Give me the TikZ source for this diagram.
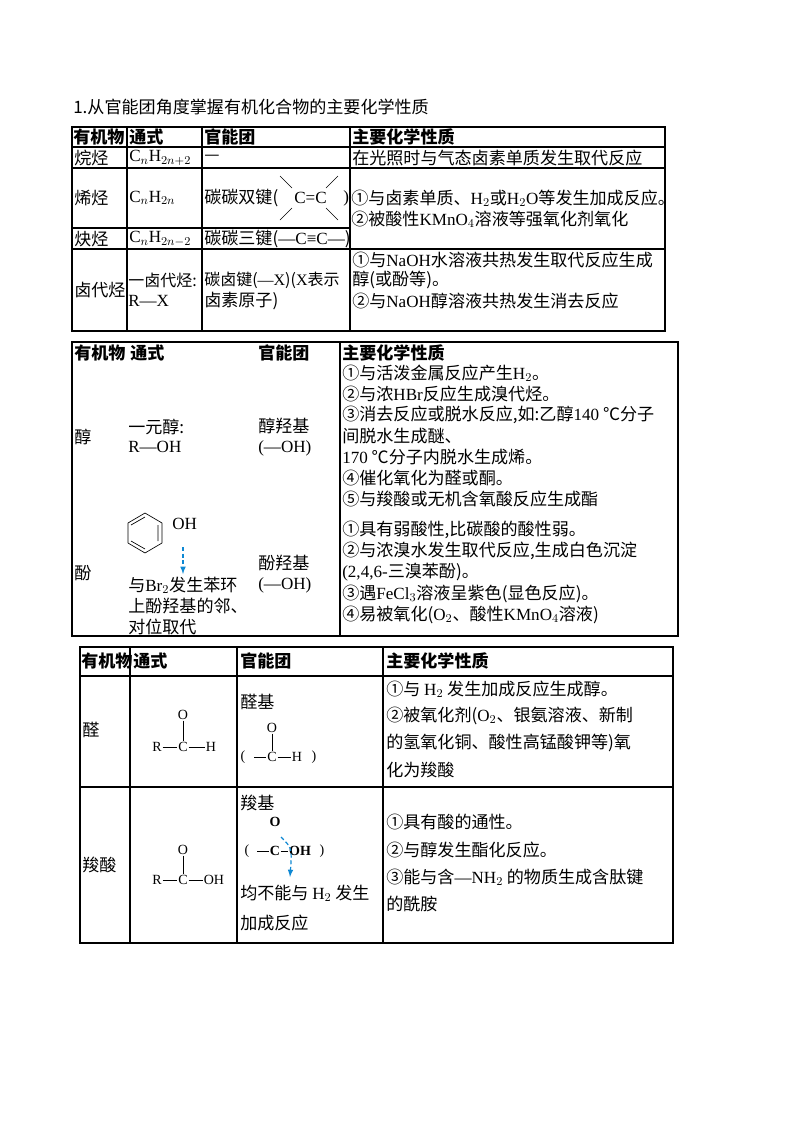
\documentclass[tikz,border=0pt]{standalone}
\usepackage{fontspec}
\setmainfont{Noto Sans CJK SC}
\newfontfamily\tr{Liberation Serif}
\newcommand\ch[1]{{\tr #1}}
\begin{document}
\begin{tikzpicture}[x=0.75pt,y=-0.75pt,
  t/.style={anchor=west,inner sep=0pt,font=\fontsize{12.8}{15}\selectfont},
  h/.style={t,font=\fontsize{12.8}{15}\selectfont\bfseries},
  s/.style={anchor=center,inner sep=0.5pt,font=\fontsize{10.5}{11}\selectfont\tr},
  grid/.style={line width=0.8pt},
  bd/.style={line width=0.5pt},
  arr/.style={densely dashed,cyan!70!blue,line width=0.9pt,-latex}]
\useasboundingbox (0,0) rectangle (800,1132);
\node[t] (title) at (73,107) {1.从官能团角度掌握有机化合物的主要化学性质};
% ---------- table 1
\draw[grid] (72,127) rectangle (665,331);
\foreach \x in {127,202,350} \draw[grid] (\x,127) -- (\x,331);
\draw[grid] (72,147) -- (665,147);
\draw[grid] (72,168) -- (665,168);
\draw[grid] (72,228) -- (350,228);
\draw[grid] (72,249) -- (665,249);
\node[h] (a1) at (73,137) {有机物};
\node[h] (a2) at (129,137) {通式};
\node[h] (a3) at (204,137) {官能团};
\node[h] (a4) at (352,137) {主要化学性质};
\node[t] (b1) at (74,158) {烷烃};
\node[t] (b2) at (129,158) {\ch{C$_n$H$_{2n+2}$}};
\node[t] (b3) at (204,158) {—};
\node[t] (b4) at (352,158) {在光照时与气态卤素单质发生取代反应};
\node[t] (c1) at (74,198) {烯烃};
\node[t] (c2) at (129,198) {\ch{C$_n$H$_{2n}$}};
\node[t] (c3) at (204,198) {碳碳双键(};
\node[t] (c3b) at (294,198) {\ch{C=C}};
\node[t] (c3c) at (343,198) {\ch{)}};
\draw[bd] (292,188) -- (280,176); \draw[bd] (292,208) -- (280,220);
\draw[bd] (326,188) -- (338,176); \draw[bd] (326,208) -- (338,220);
\node[t] (c4) at (351,198) {①与卤素单质、\ch{H$_2$}或\ch{H$_2$O}等发生加成反应。};
\node[t] (c5) at (351,219) {②被酸性\ch{KMnO$_4$}溶液等强氧化剂氧化};
\node[t] (d1) at (74,239) {炔烃};
\node[t] (d2) at (129,239) {\ch{C$_n$H$_{2n-2}$}};
\node[t] (d3) at (204,239) {碳碳三键(\ch{—C≡C—})};
\node[t] (e1) at (74,290) {卤代烃};
\node[t,font=\fontsize{12}{14}\selectfont] (e2) at (128,280) {一卤代烃:};
\node[t] (e3) at (128,301) {\ch{R—X}};
\node[t,font=\fontsize{12}{14}\selectfont] (e4) at (204,280) {碳卤键(\ch{—X})(\ch{X}表示};
\node[t] (e5) at (204,301) {卤素原子)};
\node[t] (e6) at (352,260) {①与\ch{NaOH}水溶液共热发生取代反应生成};
\node[t] (e7) at (352,280) {醇(或酚等)。};
\node[t] (e8) at (352,301) {②与\ch{NaOH}醇溶液共热发生消去反应};
% ---------- table 2
\draw[grid] (72,342) rectangle (678,636);
\draw[grid] (340,342) -- (340,636);
\node[h] (f1) at (74,353) {有机物};
\node[h] (f2) at (130,353) {通式};
\node[h] (f3) at (258,353) {官能团};
\node[h] (f4) at (342,353) {主要化学性质};
\node[t] (g1) at (74,437) {醇};
\node[t] (g2) at (128,427) {一元醇:};
\node[t] (g3) at (128,447) {\ch{R—OH}};
\node[t] (g4) at (258,426) {醇羟基};
\node[t] (g5) at (258,448) {\ch{(—OH)}};
\node[t] (p1) at (342,373) {①与活泼金属反应产生\ch{H$_2$}。};
\node[t] (p2) at (342,394) {②与浓\ch{HBr}反应生成溴代烃。};
\node[t] (p3) at (342,415) {③消去反应或脱水反应,如:乙醇\ch{140} ℃分子};
\node[t] (p4) at (342,436) {间脱水生成醚、};
\node[t] (p5) at (342,457) {\ch{170} ℃分子内脱水生成烯。};
\node[t] (p6) at (342,478) {④催化氧化为醛或酮。};
\node[t] (p7) at (342,499) {⑤与羧酸或无机含氧酸反应生成酯};
\node[t] (k1) at (74,573) {酚};
\draw[bd] (145,513) -- (162,523) -- (162,543) -- (145,553) -- (128,543) -- (128,523) -- cycle;
\draw[bd] (145,517) -- (131,525) (158,525) -- (158,541) (131,541) -- (145,549);
\node[t] (k2) at (172,524) {\ch{OH}};
\coordinate (ka) at (183,547);
\coordinate (kb) at (183,574);
\draw[arr] (ka) -- (kb);
\node[t] (k3) at (128,585) {与\ch{Br$_2$}发生苯环};
\node[t] (k4) at (128,606) {上酚羟基的邻、};
\node[t] (k5) at (128,627) {对位取代};
\node[t] (k6) at (258,563) {酚羟基};
\node[t] (k7) at (258,585) {\ch{(—OH)}};
\node[t] (q1) at (342,530) {①具有弱酸性,比碳酸的酸性弱。};
\node[t] (q2) at (342,551) {②与浓溴水发生取代反应,生成白色沉淀};
\node[t] (q3) at (342,572) {\ch{(2,4,6-}三溴苯酚)。};
\node[t] (q4) at (342,594) {③遇\ch{FeCl$_3$}溶液呈紫色(显色反应)。};
\node[t] (q5) at (342,615) {④易被氧化(\ch{O$_2$}、酸性\ch{KMnO$_4$}溶液)};
% ---------- table 3
\draw[grid] (80,647) rectangle (673,943);
\foreach \x in {130,237,383} \draw[grid] (\x,647) -- (\x,943);
\draw[grid] (80,676) -- (673,676);
\draw[grid] (80,787) -- (673,787);
\node[h] (r1) at (81,661) {有机物};
\node[h] (r2) at (133,661) {通式};
\node[h] (r3) at (240,661) {官能团};
\node[h] (r4) at (386,661) {主要化学性质};
\node[t] (m1) at (82,730) {醛};
\node[s] (m2o) at (183,715) {O};
\node[s] (m2c) at (183,747) {C};
\node[s] (m2r) at (157,747) {R};
\node[s] (m2h) at (211,747) {H};
\draw[bd] (m2o) -- (m2c) (m2r) -- (m2c) (m2c) -- (m2h);
\node[t] (m3) at (240,702) {醛基};
\node[s] (m4o) at (272,728) {O};
\node[s] (m4c) at (272,757) {C};
\node[s] (m4h) at (297,757) {H};
\node[s] (m4l) at (243,757) {(};
\node[s] (m4r) at (314,757) {)};
\coordinate (m4d) at (254,757);
\draw[bd] (m4o) -- (m4c) (m4d) -- (m4c) (m4c) -- (m4h);
\node[t] (m5) at (386,689) {①与 \ch{H$_2$} 发生加成反应生成醇。};
\node[t] (m6) at (386,716) {②被氧化剂(\ch{O$_2$}、银氨溶液、新制};
\node[t] (m7) at (386,743) {的氢氧化铜、酸性高锰酸钾等)氧};
\node[t] (m8) at (386,770) {化为羧酸};
\node[t] (n1) at (82,865) {羧酸};
\node[s] (n2o) at (183,850) {O};
\node[s] (n2c) at (183,880) {C};
\node[s] (n2r) at (157,880) {R};
\node[s] (n2h) at (214,880) {OH};
\draw[bd] (n2o) -- (n2c) (n2r) -- (n2c) (n2c) -- (n2h);
\node[t] (n3) at (240,803) {羧基};
\node[s] (n4o) at (275,822) {\bfseries O};
\node[s] (n4c) at (275,851) {\bfseries C};
\node[s] (n4h) at (300,851) {\bfseries OH};
\node[s] (n4l) at (247,851) {(};
\node[s] (n4r) at (322,851) {)};
\coordinate (n4d) at (257,851);
\draw[bd,double,double distance=1.2pt] (n4o) -- (n4c);
\draw[bd] (n4d) -- (n4c) (n4c) -- (n4h);
\coordinate (na) at (281,837);
\coordinate (nb) at (290,877);
\draw[arr] (na) .. controls (292,848) .. (nb);
\node[t] (n5) at (240,893) {均不能与 \ch{H$_2$} 发生};
\node[t] (n6) at (240,923) {加成反应};
\node[t] (n7) at (386,822) {①具有酸的通性。};
\node[t] (n8) at (386,850) {②与醇发生酯化反应。};
\node[t] (n9) at (386,877) {③能与含\ch{—NH$_2$} 的物质生成含肽键};
\node[t] (n10) at (386,904) {的酰胺};
\end{tikzpicture}
\end{document}
